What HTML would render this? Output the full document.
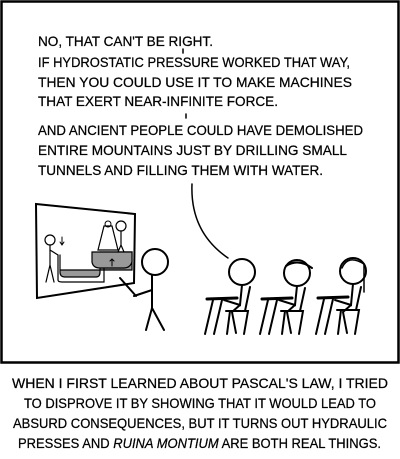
<!DOCTYPE html>
<html><head><meta charset="utf-8"><style>
html,body{margin:0;padding:0;background:#fff;}
svg{display:block;}
text{font-family:"Liberation Sans",sans-serif;font-size:14px;fill:#000;stroke:#000;stroke-width:0.25;}
</style></head><body>
<svg width="400" height="459" viewBox="0 0 400 459" xmlns="http://www.w3.org/2000/svg">
<rect x="1.5" y="1.5" width="397" height="361" fill="none" stroke="#000" stroke-width="2.5"/>
<g>
<text x="38" y="46" textLength="175" lengthAdjust="spacingAndGlyphs">NO, THAT CAN'T BE RIGHT.</text>
<text x="38" y="67" textLength="312" lengthAdjust="spacingAndGlyphs">IF HYDROSTATIC PRESSURE WORKED THAT WAY,</text>
<text x="38" y="87" textLength="314" lengthAdjust="spacingAndGlyphs">THEN YOU COULD USE IT TO MAKE MACHINES</text>
<text x="38" y="106" textLength="240" lengthAdjust="spacingAndGlyphs">THAT EXERT NEAR-INFINITE FORCE.</text>
<text x="38" y="135" textLength="325" lengthAdjust="spacingAndGlyphs">AND ANCIENT PEOPLE COULD HAVE DEMOLISHED</text>
<text x="38" y="155" textLength="309" lengthAdjust="spacingAndGlyphs">ENTIRE MOUNTAINS JUST BY DRILLING SMALL</text>
<text x="38" y="175" textLength="285" lengthAdjust="spacingAndGlyphs">TUNNELS AND FILLING THEM WITH WATER.</text>
</g>
<g stroke="#000" fill="none" stroke-width="1.5" stroke-linecap="round">
<line x1="183" y1="49" x2="183" y2="53"/>
<line x1="186" y1="114" x2="186" y2="118"/>
<path d="M192 184 Q190 232 228 258"/>
<path d="M36 204 L135 214 L134 283 L37 298 Z" stroke-width="2"/>
<path d="M60 255 L60 272 Q60 277 65 277 L96 277 Q100 277 100 272 L100 252 L132 252 L132 270 L60 270" fill="#999" stroke-width="1.2"/>
<path d="M92 252 L132 252 L132 262 Q130 268 124 268 L100 268 Q93 268 92 262 Z" fill="#999" stroke-width="1.2"/>
<path d="M58 255 L58 280 Q58 282 62 282 L104 282 L104 268" stroke-width="1.2"/>
<circle cx="50" cy="240" r="5" stroke-width="1.2"/>
<path d="M50 245 L50 265 L46 282 M50 265 L54 282 M50 250 L58 255" stroke-width="1.2"/>
<path d="M62 237 L62 245 M60 242 L62 245 L64 242" stroke-width="1"/>
<path d="M98 250 L104 226 L112 226 L118 250 Z" fill="#fff" stroke-width="1.2"/>
<circle cx="108" cy="224" r="3" stroke-width="1"/>
<circle cx="121" cy="226" r="5" stroke-width="1.2"/>
<path d="M121 231 L121 245 L118 252 M121 245 L124 252" stroke-width="1.2"/>
<path d="M112 266 L112 259 M110 261 L112 259 L114 261" stroke-width="1"/>
<circle cx="155" cy="262" r="13" stroke-width="2"/>
<path d="M152 275 L152 308 L146 330 M152 308 L164 330 M152 290 L134 296 M120 278 L136 296" stroke-width="2"/>
<circle cx="242" cy="272" r="13" stroke-width="2"/>
<circle cx="297" cy="273" r="13" stroke-width="2"/>
<circle cx="353" cy="271" r="13" stroke-width="2"/>
<path d="M286 266 Q298 258 312 268" stroke-width="2"/>
<path d="M342 268 Q348 254 364 264 L364 292" stroke-width="1.5"/>
<g stroke-width="2">
<path d="M242 285 L240 305 L224 300 M240 305 L232 312 L236 333"/>
<path d="M297 286 L295 305 L279 300 M295 305 L287 312 L291 333"/>
<path d="M353 284 L351 305 L335 300 M351 305 L343 312 L347 333"/>
<path d="M207 299 L237 298" stroke-width="3"/>
<path d="M213 300 L205 334 M222 300 L214 334 M226 311 L248 311 L244 334 M230 311 L227 334 M250 287 L245 311"/>
<path d="M262 299 L292 298" stroke-width="3"/>
<path d="M268 300 L260 334 M277 300 L269 334 M281 311 L303 311 L299 334 M285 311 L282 334 M305 288 L300 311"/>
<path d="M318 298 L348 297" stroke-width="3"/>
<path d="M324 299 L316 334 M333 299 L325 334 M337 310 L359 310 L355 334 M341 310 L338 334 M361 287 L356 310"/>
</g>
</g>
<g>
<text x="12" y="388" textLength="376" lengthAdjust="spacingAndGlyphs">WHEN I FIRST LEARNED ABOUT PASCAL'S LAW, I TRIED</text>
<text x="24" y="408" textLength="352" lengthAdjust="spacingAndGlyphs">TO DISPROVE IT BY SHOWING THAT IT WOULD LEAD TO</text>
<text x="13" y="428" textLength="374" lengthAdjust="spacingAndGlyphs">ABSURD CONSEQUENCES, BUT IT TURNS OUT HYDRAULIC</text>
<text x="18" y="448" textLength="363" lengthAdjust="spacingAndGlyphs">PRESSES AND <tspan font-style="italic">RUINA MONTIUM</tspan> ARE BOTH REAL THINGS.</text>
</g>
</svg>
</body></html>
